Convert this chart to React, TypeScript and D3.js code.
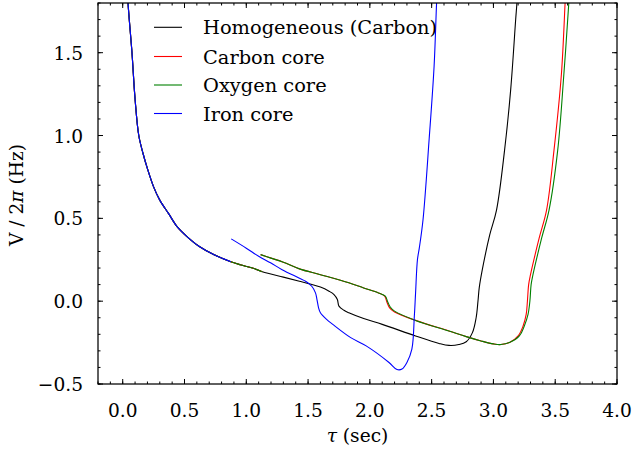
import React from "react";
import * as d3 from "d3";

const xTicks = [0.0, 0.5, 1.0, 1.5, 2.0, 2.5, 3.0, 3.5, 4.0];
const yTicks = [-0.5, 0.0, 0.5, 1.0, 1.5];
const xDomain = [-0.2, 4.0];
const yDomain = [-0.5, 1.8];

// shared early branch (all four models overlap)
const commonEarly: [number, number][] = [
  [0.03, 2.0], [0.043, 1.8], [0.075, 1.5], [0.1, 1.22], [0.13, 1.0], [0.165, 0.89],
  [0.2, 0.8], [0.25, 0.69], [0.3, 0.61], [0.37, 0.53], [0.44, 0.45], [0.52, 0.39],
  [0.62, 0.33], [0.74, 0.28], [0.875, 0.238],
];
const earlyTail: [number, number][] = [
  [0.95, 0.22], [1.05, 0.2], [1.13, 0.178],
];
const homogeneousLate: [number, number][] = [
  [1.13, 0.178], [1.3, 0.145], [1.43, 0.12], [1.507, 0.105], [1.6, 0.085], [1.67, 0.06],
  [1.71, 0.04], [1.737, 0.01], [1.75, -0.03], [1.79, -0.055], [1.83, -0.07], [1.95, -0.105],
  [2.1, -0.14], [2.37, -0.21], [2.56, -0.255], [2.64, -0.267], [2.72, -0.262], [2.78, -0.245],
  [2.83, -0.19], [2.86, -0.1], [2.875, 0.0], [2.885, 0.08], [2.91, 0.19], [2.97, 0.4],
  [3.025, 0.55], [3.09, 0.91], [3.14, 1.28], [3.18, 1.7], [3.19, 1.8], [3.2, 1.95],
];
const carbonLate: [number, number][] = [
  [1.116, 0.281], [1.2, 0.26], [1.3, 0.235], [1.43, 0.195], [1.6, 0.16], [1.83, 0.111],
  [1.95, 0.08], [2.07, 0.05], [2.12, 0.03], [2.14, -0.01], [2.16, -0.04], [2.2, -0.065],
  [2.37, -0.116], [2.64, -0.18], [2.78, -0.214], [2.9, -0.24], [3.0, -0.258], [3.06, -0.262],
  [3.13, -0.25], [3.2, -0.21], [3.24, -0.15], [3.265, -0.08], [3.275, 0.0], [3.285, 0.1],
  [3.3, 0.16], [3.37, 0.38], [3.43, 0.55], [3.49, 0.91], [3.55, 1.37], [3.58, 1.8], [3.59, 1.95],
];
const oxygenLate: [number, number][] = [
  [1.116, 0.281], [1.2, 0.26], [1.3, 0.235], [1.43, 0.195], [1.6, 0.16], [1.83, 0.111],
  [1.95, 0.08], [2.07, 0.05], [2.125, 0.03], [2.145, -0.005], [2.165, -0.035], [2.2, -0.06],
  [2.37, -0.116], [2.64, -0.18], [2.78, -0.214], [2.9, -0.24], [3.0, -0.258], [3.06, -0.262],
  [3.13, -0.25], [3.21, -0.21], [3.25, -0.15], [3.28, -0.08], [3.295, 0.0], [3.305, 0.1],
  [3.32, 0.16], [3.39, 0.38], [3.45, 0.55], [3.52, 0.91], [3.57, 1.37], [3.61, 1.8], [3.62, 1.95],
];
const ironLate: [number, number][] = [
  [0.878, 0.376], [1.0, 0.32], [1.1, 0.271], [1.2, 0.23], [1.29, 0.19], [1.426, 0.14],
  [1.48, 0.12], [1.53, 0.09], [1.56, 0.05], [1.572, 0.01], [1.585, -0.04], [1.6, -0.07],
  [1.65, -0.11], [1.7, -0.14], [1.845, -0.22], [1.97, -0.27], [2.155, -0.37], [2.22, -0.413],
  [2.26, -0.41], [2.3, -0.37], [2.34, -0.29], [2.36, -0.09], [2.37, 0.05], [2.385, 0.25],
  [2.4, 0.32], [2.43, 0.49], [2.48, 0.98], [2.52, 1.42], [2.54, 1.8], [2.55, 1.95],
];

const seriesNames = ["Homogeneous (Carbon)", "Carbon core", "Oxygen core", "Iron core"];
const seriesColors = ["#000000", "#ff0000", "#008000", "#0000ff"];

const W = 634, H = 451;
const M = { left: 98, right: 617, top: 3, bottom: 384 };
const FONT = '"DejaVu Serif", "Liberation Serif", serif';
const TS: React.CSSProperties = { fontFamily: FONT, fontSize: "18.6px" };
const LS: React.CSSProperties = { fontFamily: FONT, fontSize: "19.4px" };

export default function App() {
  const x = d3.scaleLinear().domain(xDomain).range([M.left, M.right]);
  const y = d3.scaleLinear().domain(yDomain).range([M.bottom, M.top]);
  const line = d3
    .line<[number, number]>()
    .x((d) => x(d[0]))
    .y((d) => y(d[1]))
    .curve(d3.curveCatmullRom.alpha(0.5));

  const segments: { data: [number, number][]; color: string; w: number }[] = [
    { data: [...commonEarly, ...earlyTail.slice(0, -1), ...homogeneousLate], color: seriesColors[0], w: 1.1 },
    { data: [...commonEarly, ...earlyTail], color: seriesColors[1], w: 1.1 },
    { data: carbonLate, color: seriesColors[1], w: 1.1 },
    { data: [...commonEarly, ...earlyTail], color: seriesColors[2], w: 1.1 },
    { data: oxygenLate, color: seriesColors[2], w: 1.1 },
    { data: commonEarly, color: seriesColors[3], w: 1.1 },
    { data: ironLate, color: seriesColors[3], w: 1.1 },
  ];

  const xMinor = d3.range(-0.2, 4.0001, 0.1);
  const yMinor = d3.range(-0.5, 1.8001, 0.1);
  const fmt = (v: number) => d3.format(".1f")(v).replace("-", "\u2212");

  const legendRows = [27.3, 56.5, 85, 113.5];

  return (
    <div style={{ position: "fixed", left: 0, top: 0 }}>
      <svg width={W} height={H} style={{ display: "block", background: "#fff" }}>
        <defs>
          <clipPath id="plotClip">
            <rect x={M.left} y={M.top} width={M.right - M.left} height={M.bottom - M.top} />
          </clipPath>
        </defs>
        <g clipPath="url(#plotClip)" fill="none">
          {segments.map((s, i) => (
            <path key={i} d={line(s.data) || ""} stroke={s.color} strokeWidth={s.w} />
          ))}
        </g>
        {/* ticks */}
        <g stroke="#000" strokeWidth={1}>
          {xMinor.map((v, i) => (
            <g key={"xm" + i}>
              <line x1={x(v)} x2={x(v)} y1={M.bottom} y2={M.bottom - 2.5} />
              <line x1={x(v)} x2={x(v)} y1={M.top} y2={M.top + 2.5} />
            </g>
          ))}
          {xTicks.map((v, i) => (
            <g key={"xM" + i}>
              <line x1={x(v)} x2={x(v)} y1={M.bottom} y2={M.bottom - 5} />
              <line x1={x(v)} x2={x(v)} y1={M.top} y2={M.top + 5} />
            </g>
          ))}
          {yMinor.map((v, i) => (
            <g key={"ym" + i}>
              <line x1={M.left} x2={M.left + 2.5} y1={y(v)} y2={y(v)} />
              <line x1={M.right} x2={M.right - 2.5} y1={y(v)} y2={y(v)} />
            </g>
          ))}
          {yTicks.map((v, i) => (
            <g key={"yM" + i}>
              <line x1={M.left} x2={M.left + 5} y1={y(v)} y2={y(v)} />
              <line x1={M.right} x2={M.right - 5} y1={y(v)} y2={y(v)} />
            </g>
          ))}
        </g>
        <rect x={M.left} y={M.top} width={M.right - M.left} height={M.bottom - M.top} fill="none" stroke="#000" strokeWidth={1.25} />
        {/* tick labels */}
        <g fill="#000">
          {xTicks.map((v, i) => (
            <text key={"xl" + i} x={x(v)} y={M.bottom + 32.5} textAnchor="middle" style={TS}>{fmt(v)}</text>
          ))}
          {yTicks.map((v, i) => (
            <text key={"yl" + i} x={M.left - 15} y={y(v) + 7} textAnchor="end" style={TS}>{fmt(v)}</text>
          ))}
        </g>
        {/* axis labels */}
        <text x={(M.left + M.right) / 2} y={442} textAnchor="middle" style={TS}>
          <tspan fontStyle="italic">τ</tspan> (sec)
        </text>
        <text transform={`translate(23, ${195}) rotate(-90)`} textAnchor="middle" style={TS}>
          V / 2<tspan fontStyle="italic">π</tspan> (Hz)
        </text>
        {/* legend */}
        <g>
          {seriesNames.map((n, i) => (
            <g key={n}>
              <line x1={154} x2={182} y1={legendRows[i]} y2={legendRows[i]} stroke={seriesColors[i]} strokeWidth={1.1} />
              <text x={203} y={legendRows[i] + 7} style={LS}>{n}</text>
            </g>
          ))}
        </g>
      </svg>
    </div>
  );
}
